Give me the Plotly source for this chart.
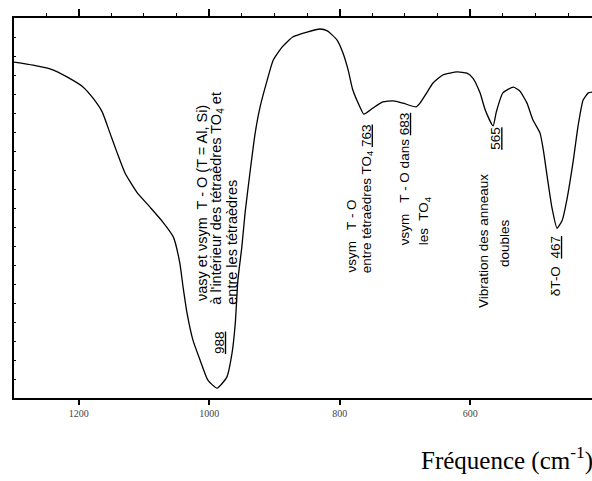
import plotly.graph_objects as go

# Infrared spectrum (transmittance, arbitrary %) versus wavenumber in cm^-1
wavenumber = [
    1299, 1270, 1244, 1218, 1193, 1178, 1164, 1152, 1141, 1129,
    1111, 1091, 1071, 1055, 1045, 1040, 1034, 1025, 1014, 1002,
    988, 973, 965, 960, 956, 950, 945, 937, 930, 922,
    911, 902, 888, 872, 850, 830, 819, 804, 795, 787,
    780, 769, 763, 749, 734, 718, 703, 683, 677, 666,
    657, 642, 620, 605, 596, 585, 577, 565, 560, 550,
    534, 524, 513, 504, 493, 488, 482, 475, 467, 459,
    452, 442, 435, 427, 419, 413,
]
transmittance = [
    88.4, 87.6, 86.6, 84.5, 81.8, 78.9, 75.3, 69.7, 64.5, 59.2,
    54.2, 50.3, 46.3, 42.4, 35.5, 29.2, 22.4, 15.3, 10.0, 4.7,
    2.6, 5.5, 11.8, 19.7, 31.1, 39.7, 48.7, 60.0, 69.2, 76.6,
    83.7, 88.9, 92.4, 95.0, 96.3, 97.1, 96.6, 94.2, 90.8, 86.3,
    81.1, 76.6, 74.7, 76.3, 77.9, 78.2, 77.6, 76.6, 77.6, 80.5,
    82.9, 85.0, 85.8, 85.5, 84.2, 80.3, 75.8, 71.6, 75.3, 80.3,
    81.8, 80.8, 77.6, 73.2, 69.7, 65.3, 58.2, 50.3, 44.7, 46.8,
    52.1, 62.6, 71.3, 78.4, 80.3, 80.5,
]

# Band positions (cm^-1) quoted in the labels
peak_positions = [988, 763, 683, 565, 467]

tick_values = [1200, 1000, 800, 600]
tick_labels = ["1200", "1000", "800", "600"]

x_range = [1299.1, 413.4]

fig = go.Figure()
fig.add_trace(go.Scatter(
    x=wavenumber, y=transmittance, mode="lines",
    line=dict(color="black", width=1.3, shape="spline", smoothing=0.5),
    hoverinfo="skip", showlegend=False,
))
# invisible trace so that the top ruler axis is drawn
fig.add_trace(go.Scatter(
    x=[x_range[0]], y=[None], xaxis="x2", mode="markers",
    marker=dict(opacity=0), hoverinfo="skip", showlegend=False,
))


def vlabel(x, y, text, yanchor="middle", size=13.5):
    """Vertical label reading bottom to top."""
    fig.add_annotation(
        x=x, y=y, xref="x", yref="y", text=text, showarrow=False,
        textangle=-90, xanchor="center", yanchor=yanchor,
        font=dict(family="Liberation Sans", size=size, color="black"),
    )


p988, p763, p683, p565, p467 = peak_positions

# Band assignments, one annotation per text line
vlabel(1011, 25.0, "νasy et νsym  T - O (T = Al, Si)", yanchor="bottom", size=14.5)
vlabel(988, 23.9, "à l'intérieur des tétraèdres TO<sub>4</sub> et", yanchor="bottom", size=14.5)
vlabel(965, 23.9, "entre les tétraèdres", yanchor="bottom", size=14.5)
vlabel(985, 14.7, f"<u>{p988}</u>")

vlabel(782.7, 32.4, "νsym   T - O", yanchor="bottom")
vlabel(758.2, 32.4, f"entre tétraèdres TO<sub>4</sub> <u>{p763}</u>", yanchor="bottom")

vlabel(701.5, 39.7, f"νsym   T - O dans <u>{p683}</u>", yanchor="bottom")
vlabel(670.8, 39.7, "les  TO<sub>4</sub>", yanchor="bottom")

vlabel(580.4, 41.3, "Vibration des anneaux")
vlabel(546.7, 40.8, "doubles")
vlabel(560.5, 68.2, f"<u>{p565}</u>")

vlabel(470.1, 34.7, f"δT-O  <u>{p467}</u>")

# Axis title
fig.add_annotation(
    x=1, y=-0.158, xref="paper", yref="paper", xanchor="right", yanchor="middle",
    xshift=3, showarrow=False,
    text="Fréquence (cm<sup>-1</sup>)",
    font=dict(family="Liberation Serif", size=25, color="black"),
)

fig.update_layout(
    width=592, height=481,
    margin=dict(l=14, r=0, t=18, b=83),
    paper_bgcolor="white", plot_bgcolor="white",
    xaxis=dict(
        range=x_range, showline=True, linewidth=2, linecolor="black",
        ticks="outside", ticklen=5, tickwidth=1.5, tickcolor="black",
        tickvals=tick_values, ticktext=tick_labels,
        tickfont=dict(family="Liberation Serif", size=10, color="#444"),
        showgrid=False, zeroline=False,
    ),
    xaxis2=dict(
        range=x_range, overlaying="x", side="top", anchor="y",
        showline=True, linewidth=2, linecolor="black",
        ticks="outside", ticklen=7, tickwidth=1.5, tickcolor="black",
        tick0=0, dtick=200, showticklabels=False,
        minor=dict(ticks="outside", ticklen=3, tickwidth=1, tickcolor="black",
                   tick0=0, dtick=50),
        showgrid=False, zeroline=False,
    ),
    yaxis=dict(
        range=[0, 100], showline=True, linewidth=2, linecolor="black",
        ticks="inside", ticklen=2, tickwidth=1, tickcolor="black",
        dtick=5, showticklabels=False, showgrid=False, zeroline=False,
    ),
)

fig.write_html("out.html")
